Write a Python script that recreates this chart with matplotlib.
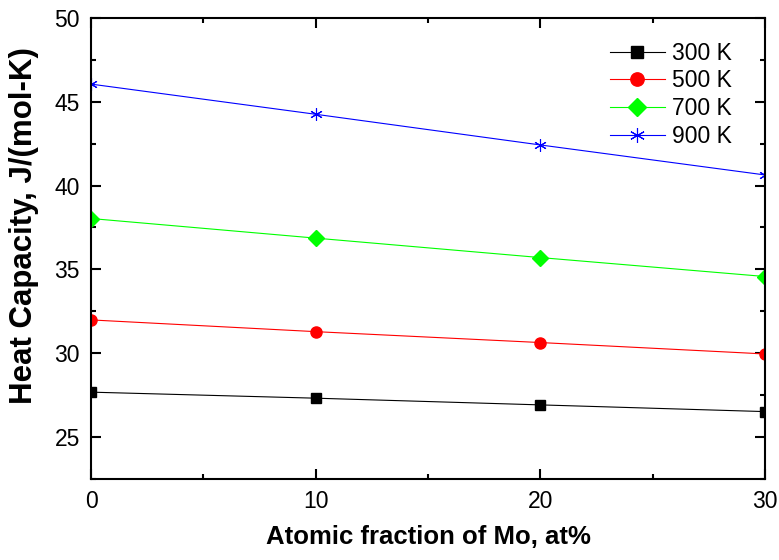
import matplotlib
matplotlib.use('Agg')
import matplotlib.pyplot as plt
from matplotlib.ticker import MultipleLocator

plt.rcParams['font.family'] = ['Liberation Sans', 'DejaVu Sans']

# atomic fraction of Mo, at%
mo = [0, 10, 20, 30]

# heat capacity J/(mol-K)
cp_300 = [27.67, 27.31, 26.91, 26.51]
cp_500 = [31.98, 31.28, 30.63, 29.95]
cp_700 = [38.03, 36.86, 35.70, 34.57]
cp_900 = [46.05, 44.25, 42.42, 40.63]

labels = ['300 K', '500 K', '700 K', '900 K']

fig = plt.figure(figsize=(7.79, 5.6), dpi=100)
ax = fig.add_axes([0.117, 0.145, 0.865, 0.823])

ax.plot(mo, cp_300, color='black', lw=0.8, marker='s', ms=7, label=labels[0])
ax.plot(mo, cp_500, color='#ff0000', lw=0.8, marker='o', ms=8, label=labels[1])
ax.plot(mo, cp_700, color='#00ff00', lw=0.8, marker='D', ms=8, label=labels[2])
ax.plot(mo, cp_900, color='#0000ff', lw=0.8, marker=(6, 2, 0), ms=9, mew=0.8, label=labels[3])

ax.set_xlim(0, 30)
ax.set_ylim(22.5, 50)
ax.xaxis.set_major_locator(MultipleLocator(10))
ax.xaxis.set_minor_locator(MultipleLocator(5))
ax.yaxis.set_major_locator(MultipleLocator(5))
ax.yaxis.set_minor_locator(MultipleLocator(2.5))
ax.tick_params(which='both', direction='in', top=True, right=True, width=1.5, labelsize=16.5)
ax.tick_params(which='major', length=7, pad=8)
ax.tick_params(which='minor', length=3.5)
for s in ax.spines.values():
    s.set_linewidth(1.5)

ax.set_xlabel('Atomic fraction of Mo, at%', fontsize=18.5, fontweight='bold', labelpad=9)
ax.set_ylabel('Heat Capacity, J/(mol-K)', fontsize=22.5, fontweight='bold')
ax.yaxis.set_label_coords(-0.078, 0.55)

ax.legend(loc='upper left', frameon=False, fontsize=16.5, handlelength=2.4,
          handletextpad=0.3, labelspacing=0.2, markerscale=1.2,
          borderpad=0, borderaxespad=0, bbox_to_anchor=(0.77, 0.948))

fig.savefig('out.png', dpi=100)
